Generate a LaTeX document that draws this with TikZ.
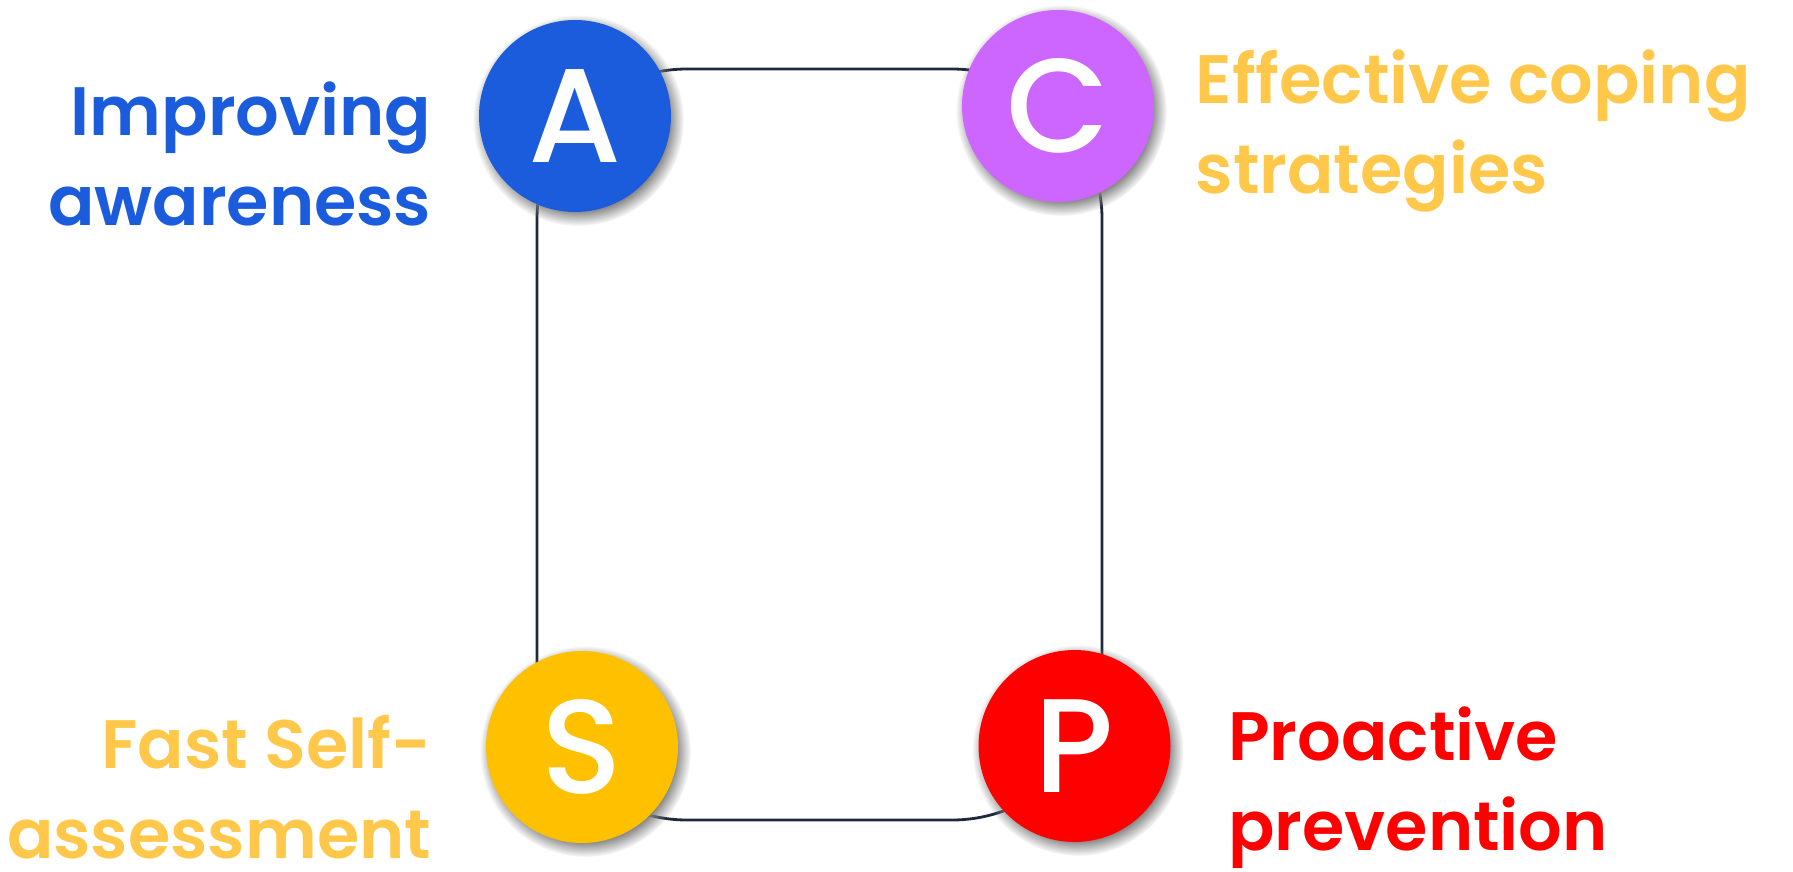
\documentclass[tikz,border=0pt]{standalone}
\usepackage{fontspec}
\setmainfont{Poppins}[UprightFont=* Medium, BoldFont=* SemiBold]
\usepackage{tikz}
\usetikzlibrary{positioning, shadows}

\definecolor{awareBlue}{HTML}{1B5CDC}
\definecolor{copePurple}{HTML}{CC66FF}
\definecolor{selfAmber}{HTML}{FFC000}
\definecolor{labelGold}{HTML}{FFC84A}
\definecolor{preventRed}{HTML}{FF0000}
\definecolor{frameNavy}{HTML}{1E293B}

\begin{document}
\begin{tikzpicture}[
    badge/.style={circle, minimum size=1.92cm, inner sep=0pt, text=white,
                  font=\fontsize{38}{42}\selectfont,
                  circular drop shadow={shadow xshift=0.03cm, shadow yshift=-0.04cm,
                                        shadow scale=1.1, opacity=0.95}},
    caption/.style={inner sep=0pt, font=\fontsize{19.5}{25.6}\selectfont\bfseries},
    frame/.style={rectangle, draw=frameNavy, line width=0.8pt, rounded corners=1.5cm,
                  minimum width=5.65cm, minimum height=7.51cm, inner sep=0pt}
]
    \useasboundingbox (0, 0) rectangle (17.93, 8.71);

    % Frame behind the four letters
    \node[frame] (loop) at (8.195, 4.265) {};

    % === Corner badges ===
    \node[badge, fill=awareBlue] (A) at (5.75, 7.55) {A};
    \node[badge, fill=copePurple] (C) at (10.58, 7.65) {C};
    \node[badge, fill=selfAmber] (S) at (5.82, 1.24) {S};
    \node[badge, fill=preventRed] (P) at (10.745, 1.25) {P};

    % === Labels ===
    \node[caption, text=awareBlue, align=right, anchor=east] (labA) at (4.32, 7.17) {Improving\\awareness};
    \node[caption, text=labelGold, align=left, anchor=west] (labC) at (11.95, 7.40) {Effective coping\\strategies};
    \node[caption, text=labelGold, align=right, anchor=east] (labS) at (4.32, 0.84) {Fast Self-\\assessment};
    \node[caption, text=preventRed, align=left, anchor=west] (labP) at (12.275, 0.83) {Proactive\\prevention};

\end{tikzpicture}
\end{document}
